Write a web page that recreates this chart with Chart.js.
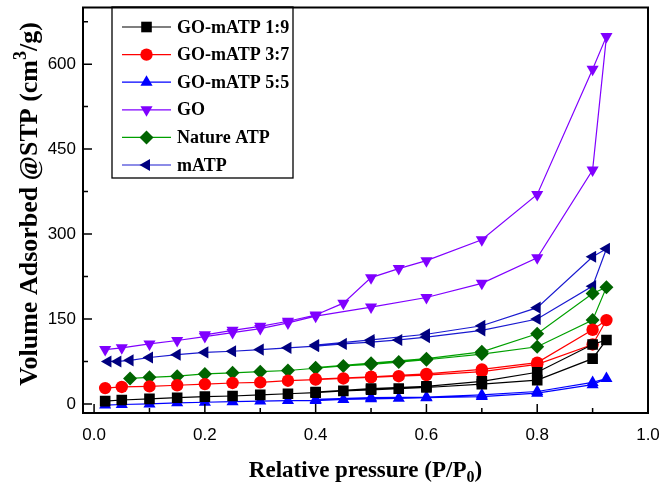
<!DOCTYPE html>
<html lang="en">
<head>
<meta charset="UTF-8">
<title>N2 adsorption isotherms</title>
<style>
  html, body { margin: 0; padding: 0; background: #fff; }
  #wrap { width: 663px; height: 492px; position: relative; }
</style>
</head>
<body>
<div id="wrap"><canvas id="iso"></canvas></div>
<script src="https://cdn.jsdelivr.net/npm/chart.js"></script>
<script>
// series names (legend order)
const names = ["GO-mATP 1:9", "GO-mATP 3:7", "GO-mATP 5:5", "GO", "Nature ATP", "mATP"];

// axis ticks
const xTicks = [0, 0.2, 0.4, 0.6, 0.8, 1.0];
const xMinor = [0.1, 0.3, 0.5, 0.7, 0.9];
const yTicks = [0, 150, 300, 450, 600];
const yMinor = [75, 225, 375, 525, 675];

// adsorption branches (P/P0 , volume)
const adsX = [0.02, 0.05, 0.1, 0.15, 0.2, 0.25, 0.3, 0.35, 0.4, 0.45, 0.5, 0.55, 0.6, 0.7, 0.8, 0.9, 0.925];
const go19Ads = [5, 7, 9, 11, 13, 14, 16, 18, 20, 23, 25, 27, 29, 35, 42, 80, 113];
const go37Ads = [28, 30, 31, 33, 35, 37, 38, 41, 43, 45, 47, 49, 51, 57, 70, 105, 148];
const go55Ads = [-2, -1, 0, 2, 3, 4, 5, 6, 6, 8, 9, 10, 11, 13, 19, 34, 45];

const goAdsX = [0.02, 0.05, 0.1, 0.15, 0.2, 0.25, 0.3, 0.35, 0.4, 0.5, 0.6, 0.7, 0.8, 0.9, 0.925];
const goAds = [96, 99, 106, 112, 119, 126, 133, 143, 155, 171, 188, 213, 258, 413, 649];

const natAdsX = [0.065, 0.1, 0.15, 0.2, 0.25, 0.3, 0.35, 0.4, 0.45, 0.5, 0.55, 0.6, 0.7, 0.8, 0.9, 0.925];
const natAds = [45, 47, 49, 53, 55, 57, 59, 63, 67, 70, 74, 78, 88, 101, 148, 206];

const matpAdsX = [0.025, 0.043, 0.065, 0.1, 0.15, 0.2, 0.25, 0.3, 0.35, 0.4, 0.45, 0.5, 0.55, 0.6, 0.7, 0.8, 0.9, 0.925];
const matpAds = [75, 75, 77, 82, 87, 91, 93, 96, 99, 102, 106, 109, 113, 118, 130, 150, 208, 274];

// desorption branches
const desX = [0.9, 0.8, 0.7, 0.6, 0.5, 0.4];
const go19Des = [105, 56, 40, 31, 27, 21];
const go37Des = [131, 73, 61, 53, 48, 44];
const go55Des = [38, 22, 16, 12, 11, 8];
const natDes = [195, 124, 92, 80, 72, 64];
const matpDes = [260, 170, 138, 123, 113, 104];

const goDesX = [0.9, 0.8, 0.7, 0.6, 0.55, 0.5, 0.45, 0.4, 0.35, 0.3, 0.25, 0.2];
const goDes = [591, 370, 290, 253, 239, 223, 178, 157, 146, 137, 130, 122];

function pts(xs, ys) {
    return xs.map((x, i) => ({ x: x, y: ys[i] }));
}

function series(label, ax, ay, dx, dy, line, fill, style, rot, r) {
    return {
        label: label,
        data: pts(ax, ay).concat(pts(dx, dy)),
        borderColor: line,
        borderWidth: 1.2,
        backgroundColor: fill,
        pointBackgroundColor: fill,
        pointBorderColor: fill,
        pointBorderWidth: 0,
        pointStyle: style,
        pointRotation: rot,
        pointRadius: r,
        tension: 0
    };
}

const datasets = [
    series(names[0], adsX, go19Ads, desX, go19Des, "#000000", "#000000", "rect", 0, 7.5),
    series(names[1], adsX, go37Ads, desX, go37Des, "#ff0000", "#ff0000", "circle", 0, 6.2),
    series(names[2], adsX, go55Ads, desX, go55Des, "#0000ff", "#0000ff", "triangle", 0, 7),
    series(names[3], goAdsX, goAds, goDesX, goDes, "#8000ff", "#8000ff", "triangle", 180, 7),
    series(names[4], natAdsX, natAds, desX, natDes, "#00a000", "#006400", "rectRot", 0, 7),
    series(names[5], matpAdsX, matpAds, desX, matpDes, "#1a1ad0", "#000080", "triangle", 270, 7)
];

// ticks, frame, titles and legend drawn on top of the chart
const decor = {
    id: "decor",
    afterDraw(chart) {
        const c = chart.ctx;
        const a = chart.chartArea;
        const xs = chart.scales.x, ys = chart.scales.y;
        c.save();
        c.strokeStyle = "#000";
        c.lineWidth = 2;
        c.strokeRect(a.left, a.top, a.right - a.left, a.bottom - a.top);
        c.lineWidth = 1.5;
        c.beginPath();
        xTicks.forEach(v => { const p = xs.getPixelForValue(v); c.moveTo(p, a.bottom); c.lineTo(p, a.bottom - 9); });
        xMinor.forEach(v => { const p = xs.getPixelForValue(v); c.moveTo(p, a.bottom); c.lineTo(p, a.bottom - 5); });
        yTicks.forEach(v => { const p = ys.getPixelForValue(v); c.moveTo(a.left, p); c.lineTo(a.left + 9, p); });
        yMinor.forEach(v => { const p = ys.getPixelForValue(v); c.moveTo(a.left, p); c.lineTo(a.left + 5, p); });
        c.stroke();

        // x title with subscript
        c.fillStyle = "#000";
        c.textBaseline = "alphabetic";
        c.textAlign = "left";
        const big = "bold 23px 'Liberation Serif'", small = "bold 16px 'Liberation Serif'";
        c.font = big;
        const xt = "Relative pressure (P/P";
        const w1 = c.measureText(xt).width;
        const w3 = c.measureText(")").width;
        c.font = small;
        const w2 = c.measureText("0").width;
        const x0 = (a.left + a.right) / 2 - (w1 + w2 + w3) / 2;
        const yb = 477;
        c.font = big;
        c.fillText(xt, x0, yb);
        c.fillText(")", x0 + w1 + w2, yb);
        c.font = small;
        c.fillText("0", x0 + w1, yb + 5);

        // y title with superscript
        const ybig = "bold 26px 'Liberation Serif'", ysmall = "bold 18px 'Liberation Serif'";
        c.translate(37, 204);
        c.rotate(-Math.PI / 2);
        const t1 = "Volume Adsorbed @STP (cm", t2 = "3", t3 = "/g)";
        c.font = ybig;
        const u1 = c.measureText(t1).width;
        const u3 = c.measureText(t3).width;
        c.font = ysmall;
        const u2 = c.measureText(t2).width;
        const s = -(u1 + u2 + u3) / 2;
        c.font = ybig;
        c.fillText(t1, s, 0);
        c.fillText(t3, s + u1 + u2, 0);
        c.font = ysmall;
        c.fillText(t2, s + u1, -11);
        c.restore();

        // legend box
        c.save();
        const bx = 112, by = 7, bw = 181, bh = 171;
        c.strokeStyle = "#000";
        c.lineWidth = 1.3;
        c.strokeRect(bx, by, bw, bh);
        c.font = "bold 18px 'Liberation Serif'";
        c.textBaseline = "middle";
        c.textAlign = "left";
        chart.data.datasets.forEach((d, i) => {
            const ly = by + 20 + i * 27.6;
            c.strokeStyle = d.borderColor;
            c.lineWidth = 1.2;
            c.beginPath();
            c.moveTo(bx + 10, ly);
            c.lineTo(bx + 59, ly);
            c.stroke();
            c.fillStyle = d.pointBackgroundColor;
            c.strokeStyle = d.pointBackgroundColor;
            Chart.helpers.drawPoint(c, {
                pointStyle: d.pointStyle, rotation: d.pointRotation,
                radius: d.pointRadius, borderWidth: 0
            }, bx + 34.5, ly);
            c.fillStyle = "#000";
            c.fillText(d.label, bx + 65, ly + 1);
        });
        c.restore();
    }
};

new Chart(document.getElementById("iso"), {
    type: "line",
    data: { datasets: datasets },
    options: {
        responsive: true,
        maintainAspectRatio: false,
        animation: false,
        layout: { padding: { top: 5, right: 15, left: 0, bottom: 0 } },
        plugins: { legend: { display: false }, tooltip: { enabled: false } },
        scales: {
            x: {
                type: "linear",
                min: -0.02,
                max: 1.0,
                grid: { display: false, drawTicks: false },
                border: { display: false },
                afterBuildTicks: s => { s.ticks = xTicks.map(v => ({ value: v })); },
                afterFit: s => { s.height = 79; s.paddingLeft = 0; s.paddingRight = 0; },
                ticks: {
                    color: "#000",
                    padding: 12,
                    font: { family: "'Liberation Sans'", size: 17 },
                    callback: v => v.toFixed(1)
                }
            },
            y: {
                type: "linear",
                min: -16,
                max: 700,
                grid: { display: false, drawTicks: false },
                border: { display: false },
                afterBuildTicks: s => { s.ticks = yTicks.map(v => ({ value: v })); },
                afterFit: s => { s.width = 83; s.paddingTop = 0; s.paddingBottom = 0; },
                ticks: {
                    color: "#000",
                    padding: 7,
                    font: { family: "'Liberation Sans'", size: 17 },
                    callback: v => String(v)
                }
            }
        }
    },
    plugins: [decor]
});
</script>
</body>
</html>
